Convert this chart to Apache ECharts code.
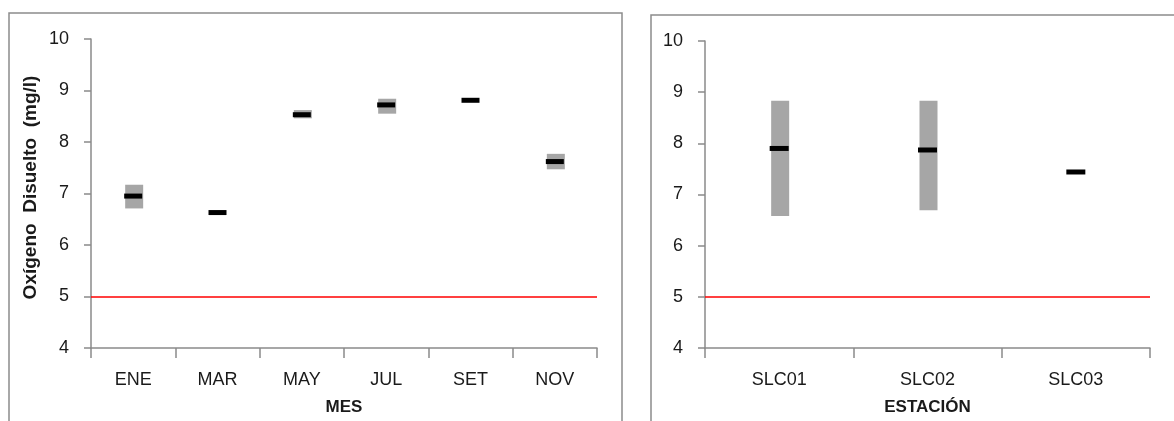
<!DOCTYPE html>
<html>
<head>
<meta charset="utf-8">
<script src="https://cdn.jsdelivr.net/npm/echarts@6/dist/echarts.min.js"></script>
<style>
  html, body { margin: 0; padding: 0; background: #fff; }
  #chart { width: 1174px; height: 421px; }
</style>
</head>
<body>
<div id="chart"></div>
<script>
// Oxígeno disuelto: rango (mín–máx) y promedio por mes y por estación
const meses = ['ENE', 'MAR', 'MAY', 'JUL', 'SET', 'NOV'];
const mesMin = [6.71, 6.63, 8.46, 8.55, 8.81, 7.47];
const mesMax = [7.17, 6.63, 8.62, 8.84, 8.81, 7.77];
const mesProm = [6.95, 6.63, 8.53, 8.72, 8.81, 7.62];

const estaciones = ['SLC01', 'SLC02', 'SLC03'];
const estMin = [6.58, 6.69, 7.44];
const estMax = [8.83, 8.83, 7.44];
const estProm = [7.90, 7.87, 7.44];

const limiteECA = 5;
const yTicks = [4, 5, 6, 7, 8, 9, 10];

const FONT = 'Liberation Sans';
const AXIS_COLOR = '#8a8a8a';
const TEXT_COLOR = '#1a1a1a';

const chart = echarts.init(document.getElementById('chart'), null, { renderer: 'canvas' });

// gray bar spanning min..max for one category
function rangeItem(params, api) {
  const lo = api.coord([api.value(0), api.value(1)]);
  const hi = api.coord([api.value(0), api.value(2)]);
  const w = 18;
  return {
    type: 'rect',
    shape: { x: lo[0] - w / 2 + 1, y: hi[1], width: w, height: lo[1] - hi[1] },
    style: { fill: '#a6a6a6' }
  };
}

function xAxisDef(idx, cats, name) {
  return {
    type: 'category',
    gridIndex: idx,
    data: cats,
    boundaryGap: true,
    axisLine: { lineStyle: { color: AXIS_COLOR, width: 1.5 } },
    axisTick: { show: true, length: 10, inside: false, lineStyle: { color: AXIS_COLOR, width: 1.5 } },
    axisLabel: { fontFamily: FONT, fontSize: 18, color: TEXT_COLOR, margin: 23 },
    name: name,
    nameLocation: 'middle',
    nameGap: 51,
    nameTextStyle: { fontFamily: FONT, fontSize: 17, fontWeight: 'bold', color: TEXT_COLOR }
  };
}

function yAxisDef(idx, name) {
  return {
    type: 'value',
    gridIndex: idx,
    min: yTicks[0],
    max: yTicks[yTicks.length - 1],
    interval: 1,
    splitLine: { show: false },
    axisLine: { show: true, lineStyle: { color: AXIS_COLOR, width: 1.5 } },
    axisTick: { show: true, length: 7, lineStyle: { color: AXIS_COLOR, width: 1.5 } },
    axisLabel: { fontFamily: FONT, fontSize: 18, color: TEXT_COLOR, margin: 22 },
    name: name,
    nameLocation: 'middle',
    nameRotate: 90,
    nameGap: 51,
    nameTextStyle: { fontFamily: FONT, fontSize: 19, fontWeight: 'bold', color: TEXT_COLOR, padding: [0, 0, 0, 12] }
  };
}

function limitLine() {
  return {
    silent: true,
    symbol: 'none',
    label: { show: false },
    lineStyle: { color: '#ff0000', width: 1.5, type: 'solid' },
    data: [{ yAxis: limiteECA }]
  };
}

const option = {
  backgroundColor: '#ffffff',
  animation: false,
  graphic: [
    { type: 'rect', shape: { x: 9, y: 13, width: 613, height: 440 },
      style: { fill: 'none', stroke: '#8c8c8c', lineWidth: 1.5 }, silent: true, z: -1 },
    { type: 'rect', shape: { x: 651, y: 15, width: 560, height: 440 },
      style: { fill: 'none', stroke: '#8c8c8c', lineWidth: 1.5 }, silent: true, z: -1 }
  ],
  grid: [
    { left: 91, width: 506, top: 39, height: 312 },
    { left: 705, width: 445, top: 41, height: 312 }
  ],
  xAxis: [
    xAxisDef(0, meses, 'MES'),
    xAxisDef(1, estaciones, 'ESTACIÓN')
  ],
  yAxis: [
    yAxisDef(0, 'Oxígeno  Disuelto  (mg/l)'),
    yAxisDef(1, '')
  ],
  series: [
    {
      type: 'custom', xAxisIndex: 0, yAxisIndex: 0,
      renderItem: rangeItem,
      encode: { x: 0, y: [1, 2] },
      data: meses.map((m, i) => [i, mesMin[i], mesMax[i]]),
      markLine: limitLine(),
      z: 2
    },
    {
      type: 'scatter', xAxisIndex: 0, yAxisIndex: 0,
      symbol: 'rect', symbolSize: [18, 5],
      itemStyle: { color: '#000000', opacity: 1 },
      data: mesProm,
      z: 3
    },
    {
      type: 'custom', xAxisIndex: 1, yAxisIndex: 1,
      renderItem: rangeItem,
      encode: { x: 0, y: [1, 2] },
      data: estaciones.map((e, i) => [i, estMin[i], estMax[i]]),
      markLine: limitLine(),
      z: 2
    },
    {
      type: 'scatter', xAxisIndex: 1, yAxisIndex: 1,
      symbol: 'rect', symbolSize: [19, 5],
      itemStyle: { color: '#000000', opacity: 1 },
      data: estProm,
      z: 3
    }
  ]
};

chart.setOption(option);
</script>
</body>
</html>
